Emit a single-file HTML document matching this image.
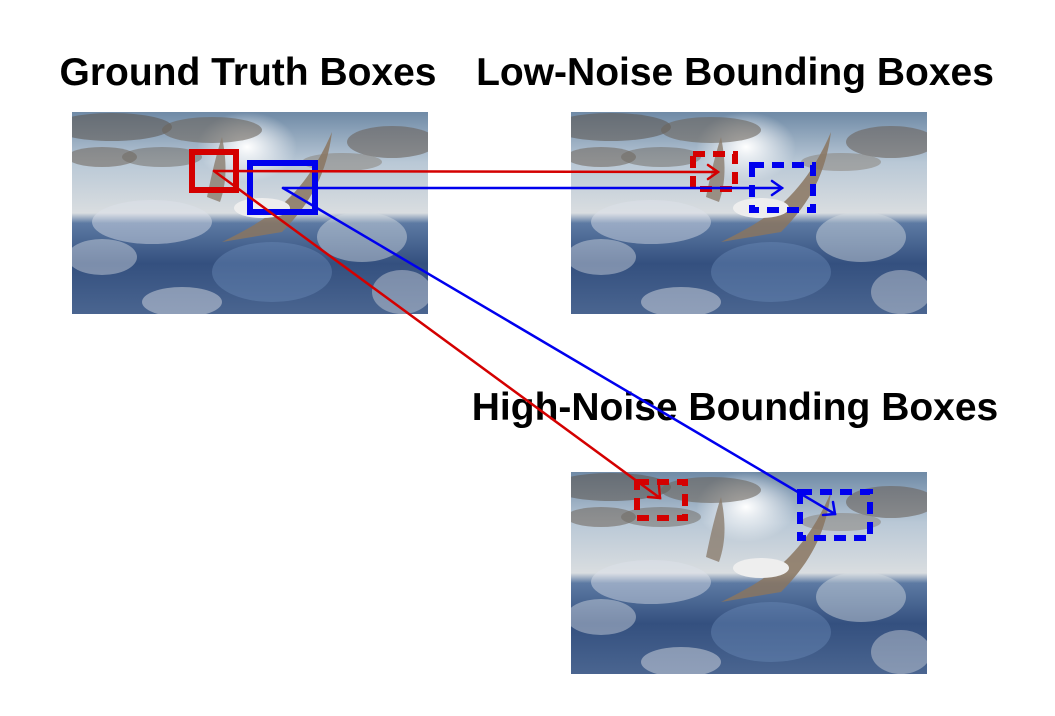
<!DOCTYPE html>
<html><head><meta charset="utf-8"><style>
html,body{margin:0;padding:0;background:#fff;width:1055px;height:716px;overflow:hidden}
svg{display:block}
text{font-family:"Liberation Sans",sans-serif;font-weight:bold;font-size:39px;fill:#000}
</style></head><body>
<svg width="1055" height="716" viewBox="0 0 1055 716">
<defs>
<linearGradient id="sky" x1="0" y1="0" x2="0" y2="1">
<stop offset="0" stop-color="#6f8aa6"/><stop offset="0.25" stop-color="#b9c8d6"/><stop offset="0.5" stop-color="#d9dde0"/>
<stop offset="0.55" stop-color="#5d7aa3"/><stop offset="0.75" stop-color="#34507f"/><stop offset="1" stop-color="#4a6590"/>
</linearGradient>
<radialGradient id="sun" cx="0.5" cy="0.5" r="0.5"><stop offset="0" stop-color="#fff" stop-opacity="1"/><stop offset="1" stop-color="#fff" stop-opacity="0"/></radialGradient>
<clipPath id="clip"><rect width="356" height="202"/></clipPath>
<g id="photo" clip-path="url(#clip)">
<rect width="356" height="202" fill="url(#sky)"/>
<ellipse cx="175" cy="35" rx="50" ry="35" fill="url(#sun)"/>
<ellipse cx="40" cy="15" rx="60" ry="14" fill="#5f5a55" opacity="0.6"/>
<ellipse cx="140" cy="18" rx="50" ry="13" fill="#6d655d" opacity="0.6"/>
<ellipse cx="320" cy="30" rx="45" ry="16" fill="#6a635c" opacity="0.6"/>
<ellipse cx="30" cy="45" rx="35" ry="10" fill="#736b63" opacity="0.6"/>
<ellipse cx="90" cy="45" rx="40" ry="10" fill="#6d675f" opacity="0.5"/>
<ellipse cx="270" cy="50" rx="40" ry="9" fill="#857d74" opacity="0.5"/>
<ellipse cx="80" cy="110" rx="60" ry="22" fill="#dde3ea" opacity="0.45"/>
<ellipse cx="290" cy="125" rx="45" ry="25" fill="#d8dde3" opacity="0.45"/>
<ellipse cx="30" cy="145" rx="35" ry="18" fill="#e8ebee" opacity="0.4"/>
<ellipse cx="110" cy="190" rx="40" ry="15" fill="#e4e7ea" opacity="0.45"/>
<ellipse cx="330" cy="180" rx="30" ry="22" fill="#e1e4e7" opacity="0.4"/>
<ellipse cx="200" cy="160" rx="60" ry="30" fill="#6f8fbc" opacity="0.4"/>
<path d="M150 130 C190 110 230 90 260 20 C255 60 240 90 210 120 Z" fill="#8a7560" opacity="0.85"/>
<ellipse cx="190" cy="96" rx="28" ry="10" fill="#eeeeee"/>
<path d="M135 85 C140 60 145 40 150 25 C155 50 155 70 148 90 Z" fill="#8b7d6e" opacity="0.8"/>
</g>
</defs>

<text x="248" y="85" text-anchor="middle">Ground Truth Boxes</text>
<text x="735" y="85" text-anchor="middle">Low-Noise Bounding Boxes</text>
<text x="735" y="420" text-anchor="middle">High-Noise Bounding Boxes</text>

<use href="#photo" x="72" y="112"/>
<use href="#photo" x="571" y="112"/>
<use href="#photo" x="571" y="472"/>

<rect x="192" y="152" width="44" height="38" fill="none" stroke="#d40000" stroke-width="6"/>
<rect x="250" y="163" width="65" height="49" fill="none" stroke="#0000ee" stroke-width="6"/>

<rect x="693" y="154" width="42" height="35" fill="none" stroke="#d40000" stroke-width="6" stroke-dasharray="12,8"/>
<rect x="752" y="165" width="61" height="45" fill="none" stroke="#0000ee" stroke-width="6" stroke-dasharray="12,8"/>

<rect x="637" y="482" width="48" height="36" fill="none" stroke="#d40000" stroke-width="6" stroke-dasharray="12,8"/>
<rect x="800" y="492" width="70" height="46" fill="none" stroke="#0000ee" stroke-width="6" stroke-dasharray="12,8"/>

<g stroke-width="2.5" fill="none" stroke-linecap="round">
<line x1="214" y1="171" x2="718" y2="172" stroke="#d40000"/>
<path d="M708 165 L718 172 L708 179" stroke="#d40000"/>
<line x1="283" y1="188" x2="782" y2="188" stroke="#0000ee"/>
<path d="M772 181 L782 188 L772 195" stroke="#0000ee"/>
<line x1="214" y1="171" x2="660" y2="498" stroke="#d40000"/>
<path d="M659 486 L660 498 L648 497" stroke="#d40000"/>
<line x1="283" y1="188" x2="835" y2="514" stroke="#0000ee"/>
<path d="M833 502 L835 514 L823 515" stroke="#0000ee"/>
</g>
</svg>
</body></html>
